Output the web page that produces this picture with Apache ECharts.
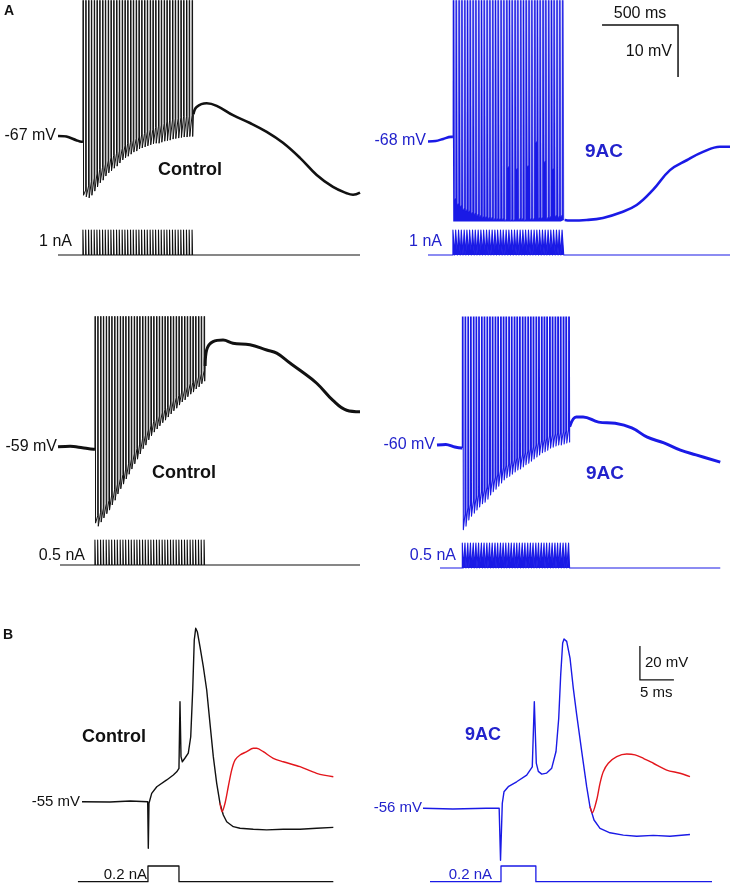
<!DOCTYPE html>
<html><head><meta charset="utf-8">
<script src="https://cdn.jsdelivr.net/npm/echarts/dist/echarts.min.js"></script>
<style>html,body{margin:0;padding:0;background:#fff}#c{width:733px;height:885px}</style>
</head><body><div id="c"></div>
<script>
// ================= DATA =================
// stimulus pulse train (offsets from train onset, ms)
const STIM_OFFSETS_MS = [0,18,37,55,74,92,110,129,147,166,184,202,221,239,258,276,294,313,331,350,368,386,405,423,442,460,478,497,515,534,552,570,589,607,626,644,662,681,699,718];
const SPIKE_PEAK_MV = 20;

// ---- A, control, 1 nA ----
const ctl1_onset = 164;
const ctl1_pre = [[0,-67.0],[55,-67.1],[120,-67.8],[155,-68.1]];
const ctl1_base = [-68.1,-77.4,-76.6,-75.8,-75.1,-74.3,-73.5,-73.0,-72.4,-71.8,-71.2,-70.8,-70.3,-69.9,-69.4,-68.9,-68.5,-68.2,-67.8,-67.5,-67.2,-66.8,-66.5,-66.2,-65.8,-65.7,-65.4,-65.1,-64.9,-64.6,-64.3,-64.1,-63.9,-63.7,-63.6,-63.5,-63.3,-63.3,-63.2,-63.0];
const ctl1_trough = [-78.4,-78.7,-78.9,-78.4,-77.6,-76.8,-76.0,-75.5,-74.7,-74.1,-73.7,-73.2,-72.8,-72.2,-71.6,-71.2,-70.9,-70.5,-70.1,-69.9,-69.5,-69.3,-69.1,-68.9,-68.7,-68.5,-68.4,-68.4,-68.2,-68.0,-67.9,-67.8,-67.6,-67.5,-67.4,-67.3,-67.2,-67.2,-67.1,-67.1];
const ctl1_post = [[891,-62.8],[912,-61.4],[978,-60.7],[1044,-61.2],[1151,-63.0],[1263,-64.5],[1373,-66.2],[1480,-68.3],[1592,-71.2],[1702,-74.5],[1809,-76.8],[1899,-78.0],[1941,-78.3],[1987,-77.9]];
const ctl1_current = {start:0, end:1987, amp:1};

// ---- A, 9AC, 1 nA ----
const ac1_onset = 164;
const ac1_pre = [[0,-68.1],[50,-68.0],[100,-67.6],[150,-67.2]];
const ac1_base = [-67.2,-78.9,-79.9,-80.3,-80.9,-81.1,-81.3,-81.6,-81.8,-82.0,-82.2,-82.4,-82.4,-82.6,-82.6,-82.8,-82.8,-82.8,-82.8,-83.0,-72.8,-83.0,-83.0,-73.2,-82.8,-82.8,-83.0,-72.6,-82.8,-82.8,-68.0,-82.6,-82.6,-71.8,-82.6,-82.4,-73.2,-82.2,-82.4,-82.2];
const ac1_trough = [-79.3,-80.3,-80.7,-81.3,-81.5,-81.7,-82.0,-82.2,-82.4,-82.6,-82.8,-82.8,-83.0,-83.0,-83.2,-83.2,-83.2,-83.2,-83.4,-73.2,-83.4,-83.4,-73.6,-83.2,-83.2,-83.4,-73.0,-83.2,-83.2,-68.4,-83.0,-83.0,-72.2,-83.0,-82.8,-73.6,-82.6,-82.8,-82.6,-83.2];
const ac1_post = [[900,-83.2],[934,-83.3],[1044,-83.2],[1151,-82.8],[1263,-81.8],[1373,-80.3],[1480,-77.4],[1592,-73.6],[1702,-71.7],[1809,-70.1],[1921,-69.1],[1987,-69.1]];
const ac1_current = {start:0, end:1987, amp:1};

// ---- A, control, 0.5 nA ----
const ctl05_onset = 243;
const ctl05_pre = [[0,-59.0],[80,-58.9],[160,-59.2],[235,-59.5]];
const ctl05_base = [-59.5,-72.3,-71.6,-70.8,-70.0,-69.3,-68.3,-67.3,-66.2,-65.2,-64.3,-63.3,-62.3,-61.4,-60.4,-59.4,-58.5,-57.5,-56.8,-55.8,-55.0,-54.2,-53.7,-53.1,-52.5,-51.9,-51.4,-50.8,-50.2,-49.6,-49.1,-48.5,-48.1,-47.5,-46.9,-46.6,-46.0,-45.6,-45.0,-44.4];
const ctl05_trough = [-73.7,-74.3,-73.5,-72.7,-71.9,-71.2,-70.2,-69.3,-68.1,-67.1,-66.2,-65.2,-64.3,-63.3,-62.3,-61.4,-60.4,-59.4,-58.7,-57.7,-56.9,-56.2,-55.6,-55.0,-54.4,-53.9,-53.3,-52.7,-52.1,-51.6,-51.0,-50.4,-50.0,-49.4,-48.9,-48.5,-47.9,-47.5,-46.9,-46.4];
const ctl05_post = [[968,-43.5],[978,-40.4],[1020,-38.8],[1086,-38.5],[1151,-39.1],[1263,-39.4],[1373,-40.4],[1439,-41.0],[1526,-42.9],[1592,-44.3],[1702,-46.8],[1809,-50.1],[1899,-52.0],[1987,-52.3]];
const ctl05_current = {start:13, end:1987, amp:0.5};

// ---- A, 9AC, 0.5 nA ----
const ac05_onset = 171;
const ac05_pre = [[0,-60.0],[60,-59.9],[120,-60.4],[165,-60.6]];
const ac05_base = [-60.6,-73.3,-72.1,-71.4,-70.8,-70.2,-69.6,-69.0,-68.7,-68.1,-67.3,-66.7,-66.2,-65.6,-65.0,-64.4,-64.0,-63.7,-63.3,-62.9,-62.5,-62.3,-61.9,-61.5,-61.2,-60.8,-60.4,-60.0,-59.6,-59.2,-59.0,-58.7,-58.3,-58.1,-57.9,-57.7,-57.7,-57.5,-57.3,-57.1];
const ac05_trough = [-76.3,-75.6,-74.4,-73.7,-73.1,-72.5,-71.9,-71.3,-71.0,-70.4,-69.6,-69.0,-68.5,-67.9,-67.3,-66.7,-66.3,-66.0,-65.6,-65.2,-64.8,-64.6,-64.2,-63.8,-63.5,-63.1,-62.7,-62.3,-61.9,-61.5,-61.3,-61.0,-60.6,-60.4,-60.2,-60.0,-60.0,-59.8,-59.6,-59.4];
const ac05_post = [[896,-56.5],[941,-54.6],[987,-54.6],[1092,-55.6],[1204,-55.8],[1316,-56.7],[1421,-58.5],[1533,-59.6],[1645,-61.0],[1750,-61.9],[1914,-63.3]];
const ac05_current = {start:20, end:1914, amp:0.5};

// ---- B, control (single AP, ms / mV) ----
const bCtl_trace = [[0,-55.0],[4.1,-55.2],[7.1,-54.6],[9.66,-55.0],[9.75,-82.4],[9.85,-55.9],[10.25,-50.1],[11.0,-46.2],[12.46,-42.2],[13.43,-39.3],[13.93,-37.4],[14.26,-35.4],[14.41,3.8],[14.56,-28.5],[14.75,-31.5],[15.15,-29.3],[15.63,-26.4],[15.99,-16.8],[16.28,10.7],[16.51,40.1],[16.72,47.0],[16.96,45.0],[17.35,36.2],[17.84,24.4],[18.34,10.7],[18.82,-8.9],[19.31,-28.5],[19.81,-44.2],[20.29,-55.9],[20.78,-62.8],[21.28,-66.8],[22.25,-69.7],[23.24,-70.6],[25.19,-71.2],[27.16,-71.6],[29.6,-71.2],[32.06,-71.2],[34.51,-70.6],[36.96,-70.1]];
const bCtl_red = [[20.29,-55.9],[20.6,-60.9],[21.03,-55.9],[21.51,-46.2],[22.01,-36.4],[22.5,-30.5],[23.24,-27.5],[24.22,-25.6],[25.19,-23.6],[25.69,-23.6],[26.66,-25.6],[28.13,-29.5],[29.6,-31.5],[32.06,-34.4],[34.51,-38.3],[36.96,-40.3]];
const bCtl_current = [[-0.6,0],[9.7,0],[9.7,0.2],[14.26,0.2],[14.26,0],[36.96,0]];

// ---- B, 9AC ----
const b9ac_trace = [[0,-56.0],[4.4,-56.4],[9.3,-56.0],[11.2,-56.0],[11.4,-86.6],[11.66,-53.1],[11.91,-46.3],[12.54,-43.3],[13.77,-40.4],[15.25,-36.5],[16.07,-31.6],[16.37,6.7],[16.66,-29.4],[16.96,-34.3],[17.46,-35.9],[18.19,-35.3],[18.93,-32.4],[19.56,-22.6],[19.96,-3.0],[20.25,22.6],[20.54,41.2],[20.74,43.6],[21.13,42.2],[21.62,32.4],[22.1,14.7],[22.6,-0.9],[23.34,-22.5],[24.07,-43.3],[24.56,-55.1],[25.15,-62.9],[26.03,-67.8],[27.5,-70.4],[29.46,-71.8],[31.43,-72.4],[33.87,-71.9],[36.32,-72.4],[39.26,-71.4]];
const b9ac_red = [[24.56,-55.1],[24.9,-58.6],[25.54,-51.1],[26.03,-41.3],[26.51,-34.5],[27.25,-29.5],[28.49,-25.6],[29.96,-24.1],[31.18,-24.6],[32.4,-26.6],[33.87,-29.5],[35.84,-33.5],[37.79,-35.4],[39.26,-37.4]];
const b9ac_current = [[1.03,0],[11.47,0],[11.47,0.2],[16.6,0.2],[16.6,0],[42.5,0]];

// scale bars
const SCALE_A = {ms:500, mV:10};
const SCALE_B = {ms:5, mV:20};

// ================= BUILD =================
const BLACK = '#111111', BLUE = '#1a1ae6', BLUE_TXT = '#2222cc', RED = '#e3161c';
const FONT = '"Liberation Sans", Arial, Helvetica, sans-serif';

function burst(onset, base, trough, sh) {
  const d = [];
  for (let i = 0; i < STIM_OFFSETS_MS.length; i++) {
    const t = onset + STIM_OFFSETS_MS[i];
    d.push([t, base[i]]);
    d.push([t + sh.rise, SPIKE_PEAK_MV]);
    if (sh.plateau) d.push([t + sh.rise + sh.plateau, SPIKE_PEAK_MV]);
    d.push([t + sh.rise + sh.plateau + sh.fall, trough[i]]);
  }
  return d;
}
function pulses(onset, cur, w) {
  const d = [[cur.start, 0]];
  for (const o of STIM_OFFSETS_MS) {
    const t = onset + o;
    d.push([t, 0], [t, cur.amp], [t + w, cur.amp], [t + w, 0]);
  }
  d.push([cur.end, 0]);
  return d;
}

const grids = [], xAxes = [], yAxes = [], series = [];
function addGrid(g, xr, yr) {
  const idx = grids.length;
  grids.push({left: g.left, top: g.top, width: g.width, height: g.height});
  xAxes.push({type:'value', gridIndex: idx, min: xr[0], max: xr[1], show:false});
  yAxes.push({type:'value', gridIndex: idx, min: yr[0], max: yr[1], show:false});
  return idx;
}
function line(idx, data, color, width, opts) {
  opts = opts || {};
  const s = {type:'line', xAxisIndex: idx, yAxisIndex: idx, data, symbol:'none',
    lineStyle:{color, width, join:'round'}, clip: opts.clip !== false, silent:true, animation:false,
    smooth: opts.smooth || false};
  if (opts.fill) s.areaStyle = {color, opacity:1, origin:'start'};
  series.push(s);
}

const PXA = 0.152, PYA = 5.2;  // px per ms, px per mV (panel A)
function panelA(cfg) {
  const vi = addGrid({left: cfg.left, top: cfg.basePy - (cfg.ymax - cfg.baseMv) * PYA,
    width: 2000 * PXA, height: (cfg.ymax - cfg.ymin) * PYA}, [0, 2000], [cfg.ymin, cfg.ymax]);
  const b = burst(cfg.onset, cfg.base, cfg.trough, cfg.shape);
  line(vi, cfg.pre.concat([b[0]]), cfg.color, cfg.slowW, {smooth:0.3});
  line(vi, b.concat([cfg.post[0]]), cfg.color, cfg.spikeW, {fill: cfg.fillSpikes});
  line(vi, cfg.post, cfg.color, cfg.slowW, {smooth:0.4});
  const ci = addGrid({left: cfg.left, top: cfg.curTop, width: 2000 * PXA, height: 25}, [0, 2000], [0, cfg.current.amp]);
  line(ci, pulses(cfg.onset, cfg.current, cfg.pulseW), cfg.color, 1.1, {clip:false, fill:true});
  return vi;
}

panelA({left:58, basePy:136, baseMv:-67, ymin:-80, ymax:-41, onset:ctl1_onset, pre:ctl1_pre, base:ctl1_base,
  trough:ctl1_trough, post:ctl1_post, shape:{rise:1.5, plateau:0, fall:2.5}, color:BLACK, slowW:2.6, spikeW:1,
  curTop:230, current:ctl1_current, pulseW:3});
const trIdx = panelA({left:428, basePy:141, baseMv:-68, ymin:-83.5, ymax:-41, onset:ac1_onset, pre:ac1_pre, base:ac1_base,
  trough:ac1_trough, post:ac1_post, shape:{rise:2, plateau:6, fall:3}, color:BLUE, slowW:2.6, spikeW:0.6,
  fillSpikes:true, curTop:230, current:ac1_current, pulseW:11});
panelA({left:58, basePy:446.7, baseMv:-59, ymin:-75, ymax:-34, onset:ctl05_onset, pre:ctl05_pre, base:ctl05_base,
  trough:ctl05_trough, post:ctl05_post, shape:{rise:1.5, plateau:0, fall:2.5}, color:BLACK, slowW:3, spikeW:1,
  curTop:540, current:ctl05_current, pulseW:3});
panelA({left:437, basePy:445, baseMv:-60, ymin:-77, ymax:-35.4, onset:ac05_onset, pre:ac05_pre, base:ac05_base,
  trough:ac05_trough, post:ac05_post, shape:{rise:2, plateau:2, fall:3}, color:BLUE, slowW:3, spikeW:1.1,
  curTop:543, current:ac05_current, pulseW:7});

// A scale bar (drawn in the 9AC 1 nA panel's coordinates)
const sbA_t = 1645, sbA_v = -45.7;
line(trIdx, [[sbA_t - SCALE_A.ms, sbA_v],[sbA_t, sbA_v],[sbA_t, sbA_v - SCALE_A.mV]], BLACK, 1.5, {clip:false});

// Panel B
const PXB = 6.8, PYB = 1.7;
function panelB(cfg) {
  const vi = addGrid({left: cfg.left - 2 * PXB, top: cfg.basePy - (50 - cfg.baseMv) * PYB,
    width: 47 * PXB, height: 140 * PYB}, [-2, 45], [-90, 50]);
  line(vi, cfg.trace, cfg.color, 1.4);
  line(vi, cfg.red, RED, 1.4, {smooth:0.3});
  const ci = addGrid({left: cfg.left - 2 * PXB, top: 866, width: 47 * PXB, height: 15.7}, [-2, 45], [0, 0.2]);
  line(ci, cfg.current, cfg.color, 1.3, {clip:false});
  return vi;
}
panelB({left:82, basePy:801.7, baseMv:-55, trace:bCtl_trace, red:bCtl_red, current:bCtl_current, color:BLACK});
const b9 = panelB({left:423, basePy:808.3, baseMv:-56, trace:b9ac_trace, red:b9ac_red, current:b9ac_current, color:BLUE});
const sbB_t = 31.9, sbB_v = 19.5;
line(b9, [[sbB_t, sbB_v + SCALE_B.mV],[sbB_t, sbB_v],[sbB_t + SCALE_B.ms, sbB_v]], BLACK, 1.3, {clip:false});

// ---- labels ----
function txt(x, y, text, opt) {
  opt = opt || {};
  return {type:'text', x, y, silent:true, style:{text, fill: opt.color || BLACK,
    font: (opt.bold ? 'bold ' : '') + (opt.size || 16) + 'px ' + FONT,
    align: opt.align || 'left', verticalAlign: 'middle'}};
}
const graphic = [
  txt(4, 11, 'A', {bold:true, size:14}),
  txt(56, 136, '-67 mV', {align:'right'}),
  txt(190, 170, 'Control', {bold:true, size:18, align:'center'}),
  txt(72, 242, '1 nA', {align:'right'}),
  txt(640, 14, '500 ms', {align:'center'}),
  txt(672, 52, '10 mV', {align:'right'}),
  txt(426, 141, '-68 mV', {align:'right', color:BLUE_TXT}),
  txt(604, 152, '9AC', {bold:true, size:19, align:'center', color:BLUE_TXT}),
  txt(442, 242, '1 nA', {align:'right', color:BLUE_TXT}),
  txt(57, 447, '-59 mV', {align:'right'}),
  txt(184, 473, 'Control', {bold:true, size:18, align:'center'}),
  txt(85, 556, '0.5 nA', {align:'right'}),
  txt(435, 445, '-60 mV', {align:'right', color:BLUE_TXT}),
  txt(605, 474, '9AC', {bold:true, size:19, align:'center', color:BLUE_TXT}),
  txt(456, 556, '0.5 nA', {align:'right', color:BLUE_TXT}),
  txt(3, 635, 'B', {bold:true, size:14}),
  txt(114, 737, 'Control', {bold:true, size:18, align:'center'}),
  txt(80, 802, '-55 mV', {align:'right', size:15}),
  txt(147, 875, '0.2 nA', {align:'right', size:15}),
  txt(483, 735, '9AC', {bold:true, size:18, align:'center', color:BLUE_TXT}),
  txt(422, 808, '-56 mV', {align:'right', size:15, color:BLUE_TXT}),
  txt(492, 875, '0.2 nA', {align:'right', size:15, color:BLUE_TXT}),
  txt(645, 663, '20 mV', {size:15}),
  txt(640, 693, '5 ms', {size:15})
];

const chart = echarts.init(document.getElementById('c'), null, {renderer:'canvas'});
chart.setOption({animation:false, backgroundColor:'#ffffff', grid:grids, xAxis:xAxes, yAxis:yAxes, series, graphic});
</script></body></html>
